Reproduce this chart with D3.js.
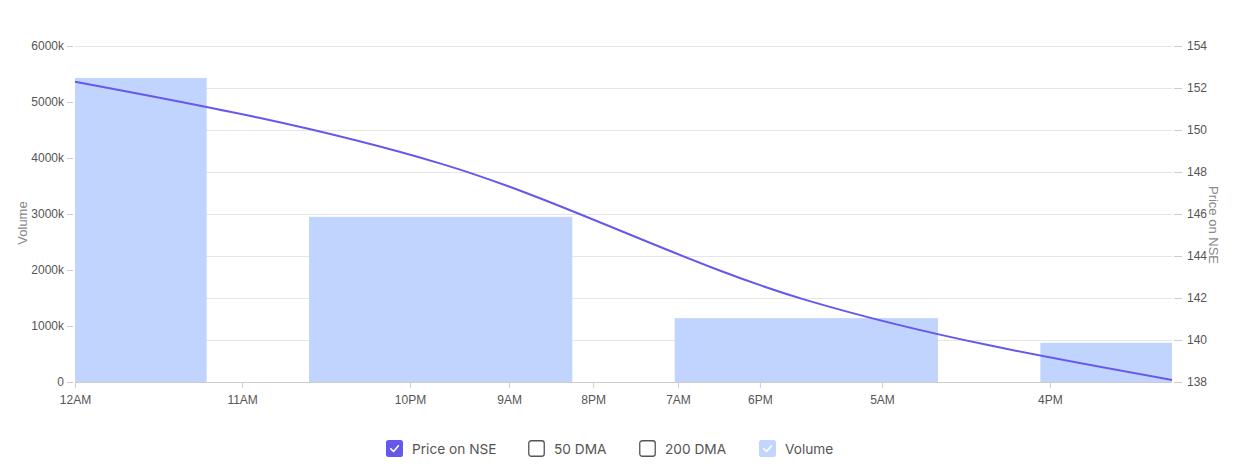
<!DOCTYPE html>
<html>
<head>
<meta charset="utf-8">
<script src="https://cdn.jsdelivr.net/npm/d3@7"></script>
<style>
  html, body { margin: 0; padding: 0; background: #fff; }
  svg { display: block; }
</style>
</head>
<body>
<svg id="chart" width="1234" height="468"></svg>
<script>
// ---- data ----
const pointIndex = [0, 1, 2, 3];
const volume = [5430, 2950, 1140, 700];           // in thousands
const price = [152.3, 148.4, 141.9, 138.1];
const xTickLabels = ["12AM", "11AM", "10PM", "9AM", "8PM", "7AM", "6PM", "5AM", "4PM"];
const xTickPos = [0, 0.457, 0.916, 1.187, 1.417, 1.649, 1.873, 2.207, 2.666];
const volumeTicks = [0, 1000, 2000, 3000, 4000, 5000, 6000];
const priceTicks = [138, 140, 142, 144, 146, 148, 150, 152, 154];
const legendItems = [
  { label: "Price on NSE", checked: true, color: "#6658ea" },
  { label: "50 DMA", checked: false, color: "#6658ea" },
  { label: "200 DMA", checked: false, color: "#6658ea" },
  { label: "Volume", checked: true, color: "#c2d5fd" }
];

(function () {
// ---- layout ----
const svg = d3.select("#chart");
const pLeft = 75, pRight = 1172, pTop = 46, pBottom = 382;
const axisFont = "'Liberation Sans', Arial, sans-serif";

const x = d3.scaleLinear().domain([0, 3]).range([pLeft, pRight]);
const yVol = d3.scaleLinear().domain([0, 6000]).range([pBottom, pTop]);
const yPrice = d3.scaleLinear().domain([138, 154]).range([pBottom, pTop]);
const step = x(1) - x(0);
const barW = step * 0.72;

// grid lines (from price axis ticks)
svg.append("g").selectAll("line").data(priceTicks.slice(1)).join("line")
  .attr("x1", pLeft).attr("x2", pRight)
  .attr("y1", d => Math.round(yPrice(d)) + 0.5).attr("y2", d => Math.round(yPrice(d)) + 0.5)
  .attr("stroke", "#e6e6e6").attr("stroke-width", 1);

// clip for bars
svg.append("clipPath").attr("id", "plotClip")
  .append("rect").attr("x", pLeft).attr("y", 0).attr("width", pRight - pLeft).attr("height", pBottom);

// bars
svg.append("g").attr("clip-path", "url(#plotClip)")
  .selectAll("rect").data(pointIndex).join("rect")
  .attr("x", i => x(i) - barW / 2)
  .attr("width", barW)
  .attr("y", i => yVol(volume[i]))
  .attr("height", i => pBottom - yVol(volume[i]))
  .attr("fill", "#c0d4fd");

// bottom axis
const xAxis = d3.axisBottom(x).tickValues(xTickPos)
  .tickFormat((d, i) => xTickLabels[i]).tickSize(6).tickSizeOuter(0);
const gx = svg.append("g").attr("transform", `translate(0,${pBottom})`).call(xAxis);
gx.select(".domain").attr("stroke", "#cccccc").attr("d", `M${pLeft},0.5H${pRight}`);
gx.selectAll(".tick line").attr("stroke", "#cccccc");
gx.selectAll(".tick text").attr("fill", "#555").attr("font-size", 12)
  .attr("font-family", axisFont).attr("dy", "1.1em");

// left axis
const yAxisL = d3.axisLeft(yVol).tickValues(volumeTicks)
  .tickFormat(d => d === 0 ? "0" : d + "k").tickSize(6).tickPadding(3);
const gl = svg.append("g").attr("transform", `translate(${pLeft - 2},0)`).call(yAxisL);
gl.select(".domain").remove();
gl.selectAll(".tick line").attr("stroke", "#cccccc");
gl.selectAll(".tick text").attr("fill", "#555").attr("font-size", 12).attr("font-family", axisFont);

// right axis
const yAxisR = d3.axisRight(yPrice).tickValues(priceTicks).tickSize(8).tickPadding(5);
const gr = svg.append("g").attr("transform", `translate(${pRight + 2},0)`).call(yAxisR);
gr.select(".domain").remove();
gr.selectAll(".tick line").attr("stroke", "#cccccc");
gr.selectAll(".tick text").attr("fill", "#555").attr("font-size", 12).attr("font-family", axisFont);

// axis titles
svg.append("text").text("Volume")
  .attr("transform", `translate(27,${(pTop + pBottom) / 2 + 9}) rotate(-90)`)
  .attr("text-anchor", "middle").attr("fill", "#888").attr("font-size", 13).attr("font-family", axisFont);
svg.append("text").text("Price on NSE")
  .attr("transform", `translate(1209,${(pTop + pBottom) / 2 + 11}) rotate(90)`)
  .attr("text-anchor", "middle").attr("fill", "#888").attr("font-size", 13).attr("font-family", axisFont);

// price line
const line = d3.line().x(i => x(i)).y(i => yPrice(price[i])).curve(d3.curveMonotoneX);
svg.append("path").datum(pointIndex).attr("d", line)
  .attr("fill", "none").attr("stroke", "#6658ea").attr("stroke-width", 2);

// legend
const legendX = [386, 528, 639, 759];
const lg = svg.append("g").attr("font-family", "Inter, 'Noto Sans', sans-serif");
legendItems.forEach((it, i) => {
  const g = lg.append("g").attr("transform", `translate(${legendX[i]},440)`);
  if (it.checked) {
    g.append("rect").attr("x", 0).attr("y", 0).attr("width", 17).attr("height", 17)
      .attr("rx", 2.5).attr("fill", it.color);
    g.append("path").attr("d", "M4.8,8.8 L7.6,11.5 L12.4,5.8")
      .attr("fill", "none").attr("stroke", "#fff").attr("stroke-width", 1.6)
      .attr("stroke-linecap", "round").attr("stroke-linejoin", "round");
  } else {
    g.append("rect").attr("x", 0.75).attr("y", 0.75).attr("width", 15.5).attr("height", 15.5)
      .attr("rx", 2.5).attr("fill", "#fff").attr("stroke", "#555").attr("stroke-width", 1.3);
  }
  g.append("text").text(it.label).attr("x", 26).attr("y", 13.5)
    .attr("font-size", 13.7).attr("fill", "#555");
});
})();
</script>
</body>
</html>
